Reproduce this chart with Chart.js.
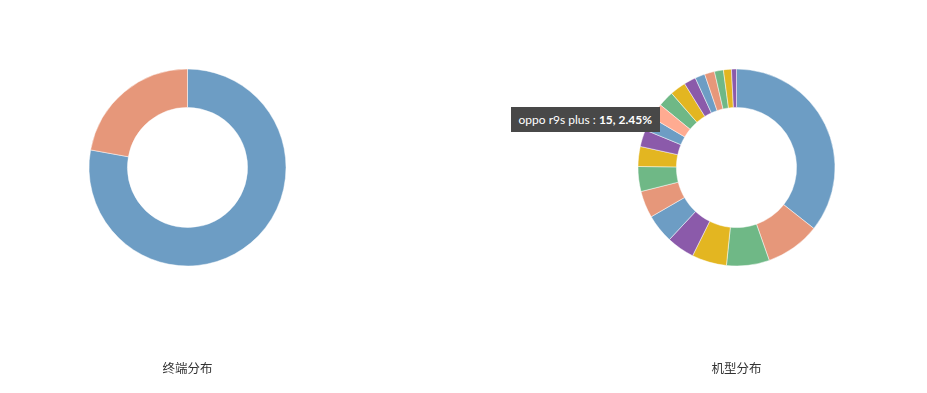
<!DOCTYPE html>
<html>
<head>
<meta charset="utf-8">
<script src="https://cdn.jsdelivr.net/npm/chart.js@4.4.1/dist/chart.umd.min.js"></script>
<style>
body { margin:0; background:#fff; }
#wrap { position:relative; width:927px; height:393px; overflow:hidden; }
#c1 { position:absolute; left:0; top:0; }
#c2 { position:absolute; left:549px; top:0; }
#tip { position:absolute; display:none; background:#484848; color:#fff; font:12px Lato, sans-serif;
       padding:0 8px; height:25px; line-height:25px; white-space:nowrap; }
</style>
</head>
<body>
<div id="wrap">
  <canvas id="c1" width="375" height="393"></canvas>
  <canvas id="c2" width="375" height="393"></canvas>
  <div id="tip"></div>
</div>
<script>
var termLabels = ['Android', 'iOS'];
var termValues = [612, 174];

var modelLabels = ['其他', 'oppo r11', 'vivo x9', 'oppo r9s', 'vivo x20', 'huawei mate9', 'oppo a57', 'vivo y66',
  'huawei p10', 'xiaomi 6', 'oppo r11s', 'oppo r9s plus', 'vivo x9s', 'honor 8', 'oppo a59s', 'xiaomi note3',
  'huawei nova2', 'vivo y67', 'meizu pro6', 'samsung s8'];
var modelValues = [218, 55, 43, 35, 28, 29, 27, 25, 20, 17, 14, 15, 16, 16, 12, 10, 10, 9, 8, 5];

var titles = ['终端分布', '机型分布'];

var palette = ['#6d9dc4', '#e6977a', '#6fb886', '#e3b621', '#8b5aaa'];
var hoverPalette = ['#8fb8d8', '#ffab91', '#8fd4a3', '#f5cc4a', '#a77cc4'];

function cycle(list, n) {
  var out = [];
  for (var i = 0; i < n; i++) out.push(list[i % list.length]);
  return out;
}

// html tooltip, label normal + value bold
function tipHandler(context) {
  var tip = document.getElementById('tip');
  var model = context.tooltip;
  if (model.opacity === 0 || !model.dataPoints || !model.dataPoints.length) {
    tip.style.display = 'none';
    return;
  }
  var dp = model.dataPoints[0];
  var sum = 0;
  for (var i = 0; i < dp.dataset.data.length; i++) sum += dp.dataset.data[i];
  var pct = (dp.raw / sum * 100).toFixed(2);
  tip.innerHTML = dp.label + ' : <b>' + dp.raw + ', ' + pct + '%</b>';
  tip.style.display = 'block';
  var cv = context.chart.canvas;
  tip.style.left = (cv.offsetLeft + model.caretX - 11 - tip.offsetWidth) + 'px';
  tip.style.top = (cv.offsetTop + model.caretY - 15) + 'px';
}

function makeDonut(id, labels, values, title) {
  return new Chart(document.getElementById(id), {
    type: 'doughnut',
    data: {
      labels: labels,
      datasets: [{
        data: values,
        backgroundColor: cycle(palette, values.length),
        hoverBackgroundColor: cycle(hoverPalette, values.length),
        borderColor: 'rgba(255,255,255,0.8)',
        hoverBorderColor: 'rgba(255,255,255,0.8)',
        borderWidth: 0.6,
        hoverOffset: 0
      }]
    },
    options: {
      responsive: false,
      animation: false,
      radius: 98.5,
      cutout: '61%',
      layout: { padding: { top: 69, bottom: 0, left: 0, right: 0 } },
      plugins: {
        legend: { display: false },
        title: {
          display: true,
          text: title,
          position: 'bottom',
          color: '#333',
          font: { family: '"Noto Sans CJK SC", sans-serif', size: 12.5, weight: 'normal' },
          padding: { top: 94.5, bottom: 17.5 }
        },
        tooltip: { enabled: false, external: tipHandler }
      }
    }
  });
}

var chart1 = makeDonut('c1', termLabels, termValues, titles[0]);
var chart2 = makeDonut('c2', modelLabels, modelValues, titles[1]);

var act = [{ datasetIndex: 0, index: modelLabels.indexOf('oppo r9s plus') }];
chart2.setActiveElements(act);
chart2.tooltip.setActiveElements(act, { x: 0, y: 0 });
chart2.update();
</script>
</body>
</html>
